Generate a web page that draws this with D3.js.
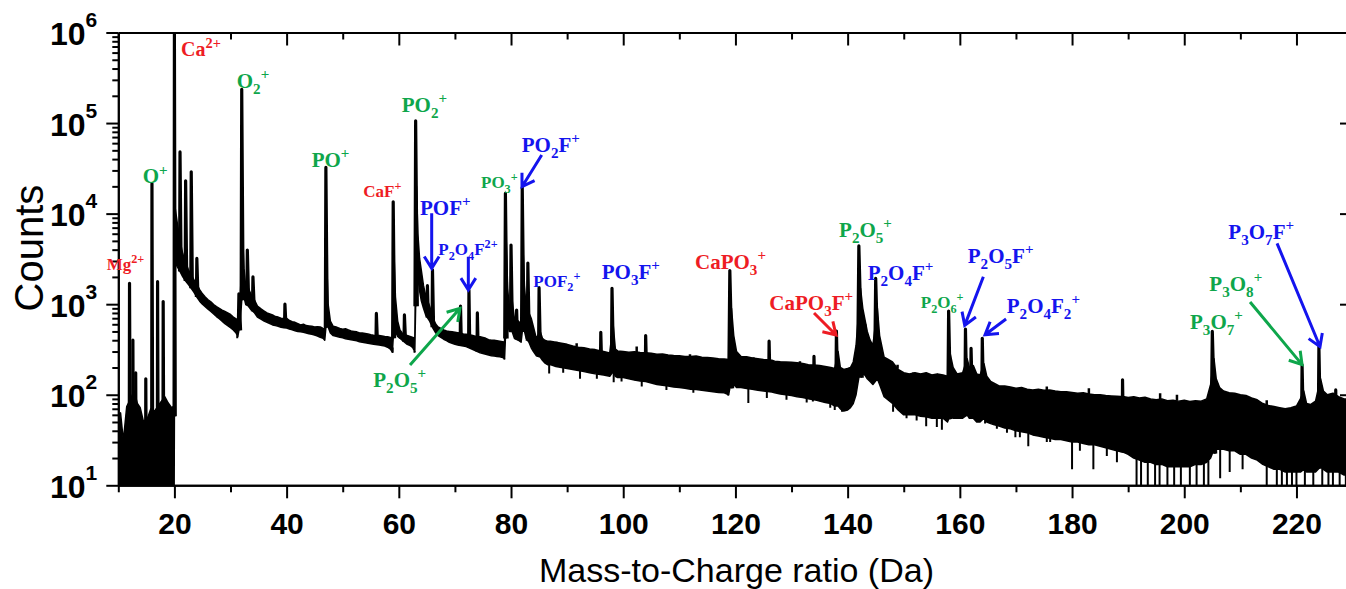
<!DOCTYPE html>
<html>
<head>
<meta charset="utf-8">
<script src="https://cdn.jsdelivr.net/npm/d3@7"></script>
<style>
  body { margin: 0; background: #fff; }
  svg { display: block; }
  .axis path, .axis line { stroke: #000; stroke-width: 2px; }
  .axis text { font-family: "Liberation Sans", Arial, sans-serif; font-weight: bold; fill: #000; }
  .ion { font-family: "Liberation Serif", "Times New Roman", serif; font-weight: bold; }
</style>
</head>
<body>
<svg id="chart" width="1346" height="589"></svg>
<script>
// peaks: [mass-to-charge (Da), top (counts), base width (Da)]
const peaks = [
  [12.0, 1700, 0.15], [12.6, 400, 0.1], [13.1, 175, 0.1], [14.9, 150, 0.1],
  [16.0, 21500, 0.15], [17.0, 1770, 0.12], [18.0, 1070, 0.12],
  [20.0, 980000, 0.15], [21.0, 48000, 0.2], [22.0, 23000, 0.2], [23.0, 29000, 0.2], [24.0, 3200, 0.2],
  [31.5, 1300, 0.3], [32.0, 236000, 0.25], [33.0, 3960, 0.25], [34.0, 2000, 0.25], [39.7, 1000, 0.2],
  [47.0, 32400, 0.25], [56.0, 790, 0.2], [59.0, 13500, 0.25], [61.0, 760, 0.2],
  [63.0, 106000, 0.3], [65.1, 1600, 0.15], [66.0, 2400, 0.2], [71.0, 950, 0.15], [72.5, 1420, 0.15], [74.0, 800, 0.15],
  [79.0, 16700, 0.3], [80.0, 4500, 0.25], [81.0, 860, 0.15], [82.0, 19500, 0.3], [83.0, 2840, 0.25], [85.0, 1520, 0.25],
  [96.0, 490, 0.2], [98.0, 1500, 0.3], [104.0, 450, 0.2],
  [119.0, 2350, 0.5], [126.0, 390, 0.2], [134.0, 265, 0.2], [138.0, 505, 0.3],
  [142.0, 4400, 0.6], [143.1, 590, 0.3], [145.0, 1930, 0.5],
  [158.0, 840, 0.4], [161.0, 530, 0.3], [162.0, 326, 0.3], [164.0, 420, 0.3], [189.0, 146, 0.2],
  [205.0, 500, 0.6], [221.0, 214, 0.4], [224.0, 340, 0.4], [227.0, 113, 0.2]
];

// small upward noise spikes: [Da, top (counts)]
const noiseSpikes = [
  [88.1, 385], [91.7, 370], [102.4, 340], [109.2, 275], [111.9, 280], [123.2, 260], [131.5, 235],
  [148.9, 215], [151.7, 176], [154.1, 160], [175.5, 123], [183.0, 118], [195.7, 104], [198.7, 100],
  [214.7, 87]
];

// background noise band: [Da, upper edge, lower edge] (counts)
const noiseBand = [
  [10.0, 60, 8], [10.4, 63, 8], [10.9, 31, 8], [11.5, 74, 8], [12.2, 90, 8], [12.8, 110, 8], [13.4, 80, 8],
  [13.9, 72, 8], [14.5, 50, 8], [15.3, 57, 8], [15.8, 70, 8], [16.4, 65, 8], [17.4, 80, 8], [18.3, 95, 8],
  [18.9, 81, 8], [19.5, 72, 8], [19.95, 75, 8],
  [20.1, 12000, 3000], [20.5, 8000, 2600], [21.0, 5000, 2300], [21.5, 3600, 2000], [22.0, 2900, 1800],
  [22.5, 2400, 1650], [23.0, 2100, 1500], [23.5, 1850, 1350], [24.0, 1650, 1200], [24.5, 1450, 1080],
  [25.0, 1300, 1000], [25.5, 1200, 940], [26.0, 1120, 880], [26.5, 1060, 830], [27.0, 990, 780],
  [27.5, 940, 730], [28.0, 900, 690], [28.5, 860, 650], [29.0, 830, 610], [29.5, 800, 580], [30.0, 770, 550],
  [30.5, 720, 520], [31.0, 690, 480], [31.3, 650, 440], [31.7, 1100, 600], [31.9, 2000, 900],
  [32.15, 6000, 1500], [32.4, 2500, 1200], [32.7, 1600, 1000], [33.2, 1500, 950], [33.6, 1300, 880],
  [34.3, 1100, 800], [34.8, 950, 720], [35.5, 880, 680], [36.0, 840, 650], [36.5, 800, 630], [37.0, 780, 610],
  [37.5, 760, 590], [38.0, 730, 580], [38.5, 720, 570], [39.0, 700, 555], [39.5, 690, 550], [40.0, 700, 545],
  [40.5, 660, 530], [41.0, 640, 520], [41.5, 630, 510], [42.0, 610, 500], [42.5, 590, 495], [43.0, 600, 490],
  [43.5, 580, 480], [44.0, 575, 470], [44.5, 570, 465], [45.0, 560, 455], [45.5, 565, 445], [46.0, 560, 430],
  [46.5, 540, 420], [46.8, 530, 400],
  [47.15, 3000, 700], [47.4, 1000, 560], [47.8, 650, 480], [48.3, 570, 450], [49.0, 555, 440], [49.5, 540, 430],
  [50.0, 530, 425], [50.5, 535, 415], [51.0, 520, 410], [51.5, 505, 405], [52.0, 500, 400], [52.5, 495, 395],
  [53.0, 480, 385], [53.5, 480, 380], [54.0, 475, 375], [54.5, 470, 370], [55.0, 460, 365], [55.5, 455, 360],
  [56.5, 450, 355], [57.0, 445, 350], [57.5, 440, 345], [58.0, 438, 335], [58.5, 430, 320], [58.85, 420, 295],
  [59.15, 3500, 600], [59.4, 1200, 500], [59.8, 650, 440], [60.2, 520, 420], [60.6, 480, 400], [61.5, 450, 360],
  [62.0, 440, 350], [62.5, 430, 330], [62.85, 420, 300],
  [63.15, 20000, 3000], [63.4, 6000, 2000], [63.7, 3200, 1400], [64.0, 2400, 1100], [64.4, 1600, 900],
  [64.8, 1250, 760], [65.5, 950, 650], [66.1, 700, 540], [66.6, 600, 480], [67.0, 560, 450], [67.5, 540, 430],
  [68.0, 520, 410], [68.5, 505, 395], [69.0, 500, 380], [69.5, 495, 370], [70.0, 490, 360], [70.5, 485, 355],
  [71.0, 480, 350], [71.5, 470, 345], [72.0, 465, 340], [72.5, 460, 330], [73.0, 455, 320], [73.5, 445, 310],
  [74.0, 440, 300], [74.5, 438, 290], [75.0, 430, 285], [75.5, 420, 280], [76.0, 405, 275], [76.5, 400, 270],
  [77.0, 400, 268], [77.5, 395, 265], [78.0, 390, 262], [78.5, 385, 258], [78.85, 380, 250],
  [79.15, 5000, 700], [79.4, 1500, 600], [79.7, 900, 500], [80.2, 1100, 500], [80.6, 700, 420], [81.3, 650, 400],
  [81.8, 600, 380], [82.15, 4000, 600], [82.4, 1600, 500], [82.7, 900, 420], [83.2, 800, 380], [83.6, 700, 330],
  [84.0, 560, 300], [84.5, 420, 270], [85.2, 500, 260], [85.6, 420, 240], [86.0, 400, 225], [86.5, 390, 215],
  [87.0, 390, 215], [88.0, 380, 205], [89.0, 370, 200], [90.0, 360, 195], [91.0, 345, 190], [92.0, 335, 185],
  [93.0, 330, 180], [94.0, 320, 175], [95.0, 315, 170], [96.5, 300, 165], [97.6, 290, 160],
  [98.2, 600, 180], [98.6, 320, 160], [99.0, 305, 155], [100, 300, 155], [101, 295, 150], [102, 298, 145],
  [103, 292, 142], [104, 290, 140], [105, 288, 135], [106, 280, 130], [107, 282, 127], [108, 275, 125],
  [109, 272, 122], [110, 270, 120], [111, 265, 118], [112, 265, 115], [113, 268, 114], [114, 260, 112],
  [115, 258, 110], [116, 255, 108], [117, 250, 106], [118, 248, 105], [118.8, 245, 100],
  [119.3, 900, 150], [119.7, 450, 130], [120.2, 300, 120], [121, 265, 120], [122, 262, 117], [123, 255, 115],
  [124, 250, 112], [125, 245, 110], [126.5, 240, 107], [127, 235, 105], [128, 232, 102], [129, 230, 100],
  [130, 228, 98], [131, 225, 95], [132, 222, 93], [133, 215, 90], [134.5, 212, 87], [135, 210, 85],
  [136, 205, 82], [137, 200, 80], [137.7, 195, 75],
  [138.3, 300, 75], [138.7, 200, 70], [139.3, 190, 66], [140, 195, 68], [140.5, 200, 72], [141, 230, 80],
  [141.5, 350, 100], [142.3, 1500, 200], [142.7, 900, 180], [143.5, 500, 150], [144.0, 400, 140],
  [144.5, 350, 130], [145.3, 900, 150], [145.7, 450, 130], [146.5, 260, 95], [147, 250, 90], [148, 230, 80],
  [149, 190, 68], [150, 175, 60],
  [151, 170, 60], [152, 175, 60], [153, 170, 58], [154, 175, 57], [155, 165, 55], [156, 170, 55], [157, 165, 55],
  [157.8, 160, 50], [158.3, 280, 60], [158.8, 200, 55], [159.5, 170, 55], [160.5, 175, 55], [161.3, 250, 60],
  [161.7, 200, 55], [162.4, 210, 55], [163, 170, 50], [163.6, 165, 50], [164.3, 220, 55], [164.8, 160, 50],
  [165.5, 140, 48], [166, 135, 47], [167, 125, 45], [168, 125, 43], [169, 122, 42], [170, 118, 40],
  [171, 120, 39], [172, 115, 38], [173, 113, 36], [174, 115, 35], [175, 112, 34], [176, 113, 33],
  [177, 110, 32], [178, 108, 32], [179, 108, 31], [180, 106, 30], [181, 104, 30], [182, 105, 29],
  [183, 102, 28], [184, 100, 28], [185, 100, 27], [186, 98, 26], [187, 97, 25], [188, 96, 24],
  [189.3, 95, 23], [190, 93, 22],
  [191, 95, 20], [192, 92, 19], [193, 94, 18], [194, 90, 18], [195, 88, 17], [196, 90, 17], [197, 86, 16],
  [198, 87, 16], [199, 85, 16], [200, 87, 16], [201, 84, 16], [202, 86, 17], [203, 85, 17], [204, 90, 18],
  [204.7, 130, 20], [205.3, 250, 25], [205.7, 150, 25], [206.3, 120, 25], [207, 110, 25], [208, 105, 24],
  [209, 104, 24], [210, 100, 22], [211, 98, 22], [212, 92, 20], [213, 88, 19], [214, 80, 17], [215, 76, 16],
  [216, 74, 15], [217, 72, 15], [218, 70, 14], [219, 72, 14], [220, 75, 14], [220.7, 90, 14], [221.3, 110, 15],
  [221.8, 80, 14], [222.5, 78, 14], [223.4, 85, 14], [224.3, 150, 16], [224.8, 110, 15], [225.5, 100, 14],
  [226.5, 104, 14], [227.5, 95, 14], [228.5, 90, 13], [230, 88, 13]
];

// downward noise spikes: [Da, lowest counts]
const dips = [
  [31.2, 420], [58.9, 290], [62.8, 290], [78.8, 245], [86.8, 172], [89.3, 175], [92.3, 150], [95.3, 150],
  [98.3, 137], [99.7, 140], [103.3, 123], [107.7, 113], [112.5, 105], [118.7, 98], [122.3, 81],
  [125.6, 92], [129.1, 88], [132.7, 82], [133.8, 84], [136.9, 72], [137.7, 68], [139.0, 65],
  [148.1, 65], [150.5, 55], [152.3, 52], [154.0, 45], [155.9, 44], [156.8, 41], [164.5, 48],
  [166.6, 42], [168.4, 38], [169.9, 34], [170.7, 34], [172.2, 27], [175.5, 30], [176.1, 30],
  [180.0, 15], [181.4, 24], [183.8, 15], [186.2, 21], [188.0, 18], [191.5, 9], [192.3, 9], [193.5, 9],
  [194.8, 9], [195.6, 9], [197.0, 9], [198.2, 9], [199.4, 9], [201.0, 9], [202.2, 9], [203.5, 9],
  [204.3, 9], [206.4, 12], [208.1, 14], [210.4, 15], [214.7, 9], [216.5, 9], [217.4, 9], [218.3, 9],
  [219.2, 9], [220.0, 9], [221.5, 9], [223.0, 9], [224.6, 9], [225.7, 9], [226.5, 9], [227.7, 9], [228.8, 9]
];

const xTicks = [20, 40, 60, 80, 100, 120, 140, 160, 180, 200, 220];
const xMinorTicks = [10, 30, 50, 70, 90, 110, 130, 150, 170, 190, 210];
const yTicks = [1e1, 1e2, 1e3, 1e4, 1e5, 1e6];
const yExponents = ["1", "2", "3", "4", "5", "6"];
const yMinorTicks = [];
[1e1, 1e2, 1e3, 1e4, 1e5].forEach(d => [2, 3, 4, 5, 6, 7, 8, 9].forEach(k => yMinorTicks.push(d * k)));

const RED = "#ee1c24", GREEN = "#0ea64b", BLUE = "#1414ee";

// ion labels: formula markup, position (Da, counts)
const ionLabels = [
  { t: "Mg^{2+}", mz: 7.93, c: 2385, col: RED, s: 17 },
  { t: "Ca^{2+}", mz: 21.18, c: 550000, col: RED, s: 20 },
  { t: "O_{2}^{+}", mz: 31.11, c: 242000, col: GREEN, s: 21 },
  { t: "O^{+}", mz: 14.35, c: 21600, col: GREEN, s: 21 },
  { t: "PO^{+}", mz: 44.47, c: 33000, col: GREEN, s: 21 },
  { t: "CaF^{+}", mz: 53.67, c: 15380, col: RED, s: 17 },
  { t: "PO_{2}^{+}", mz: 60.52, c: 133500, col: GREEN, s: 21 },
  { t: "POF^{+}", mz: 63.78, c: 9660, col: BLUE, s: 21 },
  { t: "P_{2}O_{4}F^{2+}", mz: 67.04, c: 3490, col: BLUE, s: 17 },
  { t: "P_{2}O_{5}^{+}", mz: 55.45, c: 122.7, col: GREEN, s: 21 },
  { t: "PO_{3}^{+}", mz: 74.65, c: 19040, col: GREEN, s: 17 },
  { t: "PO_{2}F^{+}", mz: 81.91, c: 48300, col: BLUE, s: 21 },
  { t: "POF_{2}^{+}", mz: 83.98, c: 1560, col: BLUE, s: 17 },
  { t: "PO_{3}F^{+}", mz: 96.17, c: 1884, col: BLUE, s: 21 },
  { t: "CaPO_{3}^{+}", mz: 112.8, c: 2428, col: RED, s: 21 },
  { t: "CaPO_{3}F^{+}", mz: 126.04, c: 862, col: RED, s: 21 },
  { t: "P_{2}O_{5}^{+}", mz: 138.47, c: 5480, col: GREEN, s: 21 },
  { t: "P_{2}O_{4}F^{+}", mz: 143.58, c: 1849, col: BLUE, s: 21 },
  { t: "P_{2}O_{6}^{+}", mz: 153.03, c: 901, col: GREEN, s: 17 },
  { t: "P_{2}O_{5}F^{+}", mz: 161.41, c: 2827, col: BLUE, s: 21 },
  { t: "P_{2}O_{4}F_{2}^{+}", mz: 168.36, c: 793, col: BLUE, s: 21 },
  { t: "P_{3}O_{7}^{+}", mz: 201.03, c: 528, col: GREEN, s: 21 },
  { t: "P_{3}O_{8}^{+}", mz: 204.47, c: 1399, col: GREEN, s: 21 },
  { t: "P_{3}O_{7}F^{+}", mz: 207.86, c: 5203, col: BLUE, s: 21 }
];

// arrows: from [Da, counts] to tip [Da, counts]
const ionArrows = [
  { from: [65.86, 10080], to: [65.86, 2489], col: BLUE },
  { from: [72.39, 3343], to: [72.39, 1435], col: BLUE },
  { from: [62.0, 213], to: [70.91, 901], col: GREEN },
  { from: [85.47, 44370], to: [81.96, 19820], col: BLUE },
  { from: [134.01, 800], to: [137.93, 457], col: RED },
  { from: [164.19, 2011], to: [160.87, 583], col: BLUE },
  { from: [168.24, 686], to: [164.49, 460], col: BLUE },
  { from: [211.73, 1057], to: [221.0, 215], col: GREEN },
  { from: [216.54, 4700], to: [224.2, 339], col: BLUE }
];

const plot = { left: 118.3, right: 1352, top: 32.5, bottom: 485.3 };

const x = d3.scaleLinear().domain([10, 229.9]).range([plot.left, plot.right]);
const y = d3.scaleLog().domain([10, 1e6]).range([plot.bottom, plot.top]);

const svg = d3.select("#chart");

svg.append("defs").append("clipPath").attr("id", "plotClip")
  .append("rect")
  .attr("x", plot.left).attr("y", plot.top)
  .attr("width", plot.right - plot.left).attr("height", plot.bottom - plot.top);

const dataLayer = svg.append("g").attr("clip-path", "url(#plotClip)");

// noise band
const area = d3.area()
  .x(d => x(d[0]))
  .y0(d => y(d[2]))
  .y1(d => y(d[1]));

dataLayer.append("path")
  .datum(noiseBand)
  .attr("d", area)
  .style("fill", "#000")
  .style("stroke", "#000")
  .style("stroke-width", 1.5)
  .style("stroke-linejoin", "round");

// band edges at a given mass (log interpolation)
const bis = d3.bisector(d => d[0]).left;
function bandAt(m, k) {
  const i = Math.max(1, Math.min(noiseBand.length - 1, bis(noiseBand, m)));
  const a = noiseBand[i - 1], b = noiseBand[i];
  const t = (m - a[0]) / (b[0] - a[0]);
  return Math.exp(Math.log(a[k]) + t * (Math.log(b[k]) - Math.log(a[k])));
}

// downward spikes
dataLayer.selectAll("line.dip")
  .data(dips)
  .enter()
  .append("line")
  .attr("class", "dip")
  .attr("x1", d => x(d[0]))
  .attr("x2", d => x(d[0]))
  .attr("y1", d => y(bandAt(d[0], 2)))
  .attr("y2", d => y(d[1]))
  .style("stroke", "#000")
  .style("stroke-width", 2);

// upward noise spikes
dataLayer.selectAll("line.bump")
  .data(noiseSpikes)
  .enter()
  .append("line")
  .attr("class", "bump")
  .attr("x1", d => x(d[0]))
  .attr("x2", d => x(d[0]))
  .attr("y1", d => y(bandAt(d[0], 1)))
  .attr("y2", d => y(d[1]))
  .style("stroke", "#000")
  .style("stroke-width", 2.5);

// peaks
const spike = d3.line().x(d => x(d[0])).y(d => y(d[1]));

dataLayer.selectAll("path.peak")
  .data(peaks)
  .enter()
  .append("path")
  .attr("class", "peak")
  .attr("d", d => {
    const base = bandAt(d[0], 2);
    return spike([[d[0] - d[2] * 0.4, base], [d[0], d[1]], [d[0] + d[2], base]]);
  })
  .style("fill", "#000")
  .style("stroke", "#000")
  .style("stroke-width", 3.2)
  .style("stroke-linejoin", "round");

// axes
const fmt = d3.format("d");

const axisB = svg.append("g").attr("class", "axis").attr("transform", `translate(0,${plot.bottom})`);
axisB.call(d3.axisBottom(x).tickValues(xTicks).tickSize(13).tickSizeOuter(0).tickPadding(14).tickFormat(fmt));
axisB.selectAll("text").style("font-size", "30px");
svg.append("g").attr("class", "axis").attr("transform", `translate(0,${plot.bottom})`)
  .call(d3.axisBottom(x).tickValues(xMinorTicks).tickSize(7).tickSizeOuter(0).tickFormat(""));

svg.append("g").attr("class", "axis").attr("transform", `translate(0,${plot.top})`)
  .call(d3.axisBottom(x).tickValues(xTicks).tickSize(13).tickSizeOuter(0).tickFormat(""));
svg.append("g").attr("class", "axis").attr("transform", `translate(0,${plot.top})`)
  .call(d3.axisBottom(x).tickValues(xMinorTicks).tickSize(7).tickSizeOuter(0).tickFormat(""));

svg.append("g").attr("class", "axis").attr("transform", `translate(${plot.left},0)`)
  .call(d3.axisLeft(y).tickValues(yTicks).tickSize(12).tickSizeOuter(0).tickFormat(""));
svg.append("g").attr("class", "axis").attr("transform", `translate(${plot.left},0)`)
  .call(d3.axisLeft(y).tickValues(yMinorTicks).tickSize(6).tickSizeOuter(0).tickFormat(""));

svg.append("g").attr("class", "axis").attr("transform", `translate(${plot.right},0)`)
  .call(d3.axisLeft(y).tickValues(yTicks).tickSize(12).tickSizeOuter(0).tickFormat(""));
svg.append("g").attr("class", "axis").attr("transform", `translate(${plot.right},0)`)
  .call(d3.axisLeft(y).tickValues(yMinorTicks).tickSize(6).tickSizeOuter(0).tickFormat(""));

// y tick labels as powers of ten
const yLab = svg.append("g")
  .style("font-family", "'Liberation Sans', Arial, sans-serif")
  .style("font-weight", "bold");
yTicks.forEach((v, i) => {
  const t = yLab.append("text")
    .attr("x", plot.left - 21)
    .attr("y", y(v) + 12.5)
    .attr("text-anchor", "end");
  t.append("tspan").style("font-size", "32px").text("10");
  t.append("tspan").attr("dy", -18).style("font-size", "21px").text(yExponents[i]);
});

// axis titles
svg.append("text")
  .attr("transform", "translate(43,248) rotate(-90)")
  .attr("text-anchor", "middle")
  .style("font-family", "'Liberation Sans', Arial, sans-serif")
  .style("font-size", "40px")
  .text("Counts");

svg.append("text")
  .attr("x", 539)
  .attr("y", 582)
  .attr("textLength", 395)
  .attr("lengthAdjust", "spacingAndGlyphs")
  .style("font-family", "'Liberation Sans', Arial, sans-serif")
  .style("font-size", "33px")
  .text("Mass-to-Charge ratio (Da)");

// formula text with sub/superscripts
function writeFormula(sel, str, size) {
  const parts = str.match(/[_^]\{[^}]*\}|[^_^]+/g);
  let shift = 0;
  parts.forEach(p => {
    let target = 0, fs = size, txt = p;
    if (p[0] === "_") { target = 0.28 * size; fs = size * 0.72; txt = p.slice(2, -1); }
    else if (p[0] === "^") { target = -0.42 * size; fs = size * 0.72; txt = p.slice(2, -1); }
    sel.append("tspan").attr("dy", target - shift).style("font-size", fs + "px").text(txt);
    shift = target;
  });
}

const ann = svg.append("g");

ionLabels.forEach(l => {
  const t = ann.append("text")
    .attr("class", "ion")
    .attr("x", x(l.mz))
    .attr("y", y(l.c))
    .style("fill", l.col);
  writeFormula(t, l.t, l.s);
});

ionArrows.forEach(a => {
  const x1 = x(a.from[0]), y1 = y(a.from[1]);
  const x2 = x(a.to[0]), y2 = y(a.to[1]);
  const ang = Math.atan2(y2 - y1, x2 - x1);
  const len = 14, spread = 32 * Math.PI / 180;
  const h1 = [x2 - len * Math.cos(ang - spread), y2 - len * Math.sin(ang - spread)];
  const h2 = [x2 - len * Math.cos(ang + spread), y2 - len * Math.sin(ang + spread)];
  ann.append("path")
    .attr("d", `M${x1},${y1}L${x2},${y2}M${h1[0]},${h1[1]}L${x2},${y2}L${h2[0]},${h2[1]}`)
    .style("fill", "none")
    .style("stroke", a.col)
    .style("stroke-width", 3)
    .style("stroke-linejoin", "miter");
});
</script>
</body>
</html>
